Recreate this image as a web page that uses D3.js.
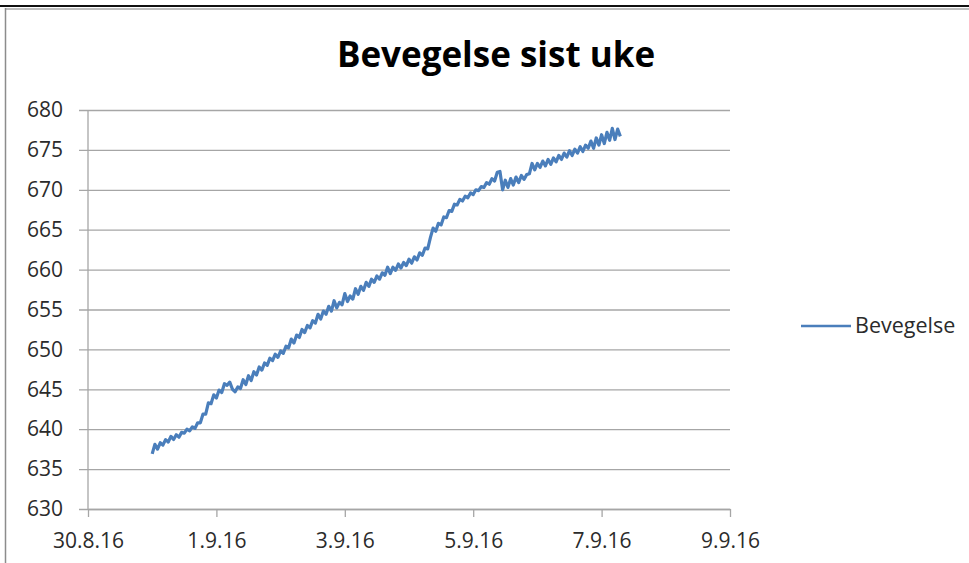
<!DOCTYPE html>
<html>
<head>
<meta charset="utf-8">
<script src="https://cdn.jsdelivr.net/npm/d3@7"></script>
<style>
  body { margin: 0; background: #fff; }
  svg { display: block; font-family: "Open Sans", sans-serif; }
</style>
</head>
<body>
<div id="chart"></div>
<script>
// data, one value per hour from 31.8.16 00:00
const title = "Bevegelse sist uke";
const seriesName = "Bevegelse";
const startTime = new Date(2016, 7, 31, 0, 0);
const values = [
  636.9, 638.1, 637.5, 638.3, 638.0, 638.7, 638.4, 639.1, 638.7, 639.3, 639.0, 639.6,
  639.5, 640.0, 639.8, 640.3, 640.1, 640.8, 640.8, 641.9, 641.9, 643.3, 643.2, 644.3,
  643.9, 644.9, 644.6, 645.7, 645.5, 645.9, 645.0, 644.7, 645.3, 645.1, 646.2, 645.6,
  646.7, 646.1, 647.2, 646.8, 647.8, 647.4, 648.3, 648.0, 648.9, 648.6, 649.4, 649.0,
  649.8, 649.5, 650.4, 650.2, 651.3, 650.8, 651.8, 651.5, 652.5, 652.1, 653.0, 652.7,
  653.6, 653.3, 654.4, 653.8, 654.8, 654.4, 655.4, 654.8, 656.1, 655.2, 655.9, 655.6,
  657.0, 656.0, 656.7, 656.3, 657.6, 656.9, 657.9, 657.4, 658.4, 657.9, 658.8, 658.4,
  659.2, 658.8, 659.6, 659.3, 660.3, 659.5, 660.3, 659.9, 660.7, 660.2, 660.9, 660.5,
  661.3, 660.8, 661.6, 661.2, 662.1, 661.8, 662.7, 662.6, 664.0, 665.2, 664.8, 665.8,
  665.6, 666.6, 666.5, 667.4, 667.3, 668.2, 668.1, 668.8, 668.6, 669.2, 669.0, 669.6,
  669.4, 670.0, 669.9, 670.4, 670.3, 670.9, 670.7, 671.4, 671.1, 672.2, 672.3, 670.0,
  671.2, 670.3, 671.4, 670.6, 671.6, 670.9, 671.8, 671.3, 671.9, 672.0, 673.3, 672.5,
  673.3, 672.8, 673.6, 673.0, 673.8, 673.2, 674.0, 673.5, 674.3, 673.8, 674.6, 674.1,
  674.9, 674.3, 675.1, 674.6, 675.4, 674.8, 675.6, 675.2, 676.1, 675.2, 676.5, 675.6,
  676.9, 675.8, 677.2, 676.2, 677.7, 676.3, 677.6, 676.7
];
const xTicks = [new Date(2016, 7, 30), new Date(2016, 8, 1), new Date(2016, 8, 3),
  new Date(2016, 8, 5), new Date(2016, 8, 7), new Date(2016, 8, 9)];
const yTicks = [630, 635, 640, 645, 650, 655, 660, 665, 670, 675, 680];

const data = values.map((v, i) => ({ time: new Date(startTime.getTime() + i * 3600000), value: v }));

const W = 969, H = 563;
const svg = d3.select("#chart").append("svg").attr("width", W).attr("height", H);

// frame bits at the top / left (page crop)
svg.append("line").attr("x1", 0).attr("x2", W).attr("y1", 6).attr("y2", 6)
  .attr("stroke", "#111").attr("stroke-width", 2);
svg.append("line").attr("x1", 5).attr("x2", W).attr("y1", 9).attr("y2", 9)
  .attr("stroke", "#bdbdbd").attr("stroke-width", 2);
svg.append("line").attr("x1", 5.5).attr("x2", 5.5).attr("y1", 8).attr("y2", H)
  .attr("stroke", "#8c8c8c").attr("stroke-width", 1.5);

const x = d3.scaleTime().domain([xTicks[0], xTicks[xTicks.length - 1]]).range([88, 730]);
const y = d3.scaleLinear().domain([630, 680]).range([509, 110]);

const fmt = d => d.getDate() + "." + (d.getMonth() + 1) + "." + String(d.getFullYear()).slice(2);

// gridlines + y labels
const gy = svg.append("g").attr("transform", "translate(79,0)")
  .call(d3.axisLeft(y).tickValues(yTicks).tickSize(-(730 - 79)).tickPadding(16).tickFormat(d3.format("d")));
gy.select(".domain").remove();
gy.selectAll(".tick line").attr("stroke", "#a6a6a6").attr("stroke-width", 1.3);
gy.selectAll(".tick text").attr("fill", "#2b2b2b").style("font-size", "21px")
  .style("font-family", "'Open Sans', sans-serif");

// y axis line
svg.append("line").attr("x1", x.range()[0]).attr("x2", x.range()[0])
  .attr("y1", y.range()[1]).attr("y2", y.range()[0])
  .attr("stroke", "#a6a6a6").attr("stroke-width", 1.3);

// x axis
const gx = svg.append("g").attr("transform", "translate(0," + y.range()[0] + ")")
  .call(d3.axisBottom(x).tickValues(xTicks).tickSize(8).tickSizeOuter(0).tickPadding(16).tickFormat(fmt));
gx.select(".domain").attr("stroke", "#a6a6a6").attr("stroke-width", 1.3);
gx.selectAll(".tick line").attr("stroke", "#a6a6a6").attr("stroke-width", 1.3);
gx.selectAll(".tick text").attr("fill", "#2b2b2b").style("font-size", "21px")
  .style("font-family", "'Open Sans', sans-serif");

// the series
const line = d3.line().x(d => x(d.time)).y(d => y(d.value));
svg.append("path").datum(data).attr("d", line)
  .attr("fill", "none").attr("stroke", "#4a7ebb").attr("stroke-width", 3.2)
  .attr("stroke-linejoin", "round");

// title
svg.append("text").attr("x", 496).attr("y", 67).attr("text-anchor", "middle")
  .style("font-size", "35px").style("font-weight", "bold").attr("fill", "#000")
  .text(title);

// legend
svg.append("line").attr("x1", 801).attr("x2", 851).attr("y1", 326).attr("y2", 326)
  .attr("stroke", "#4a7ebb").attr("stroke-width", 2.6);
svg.append("text").attr("x", 855).attr("y", 333).attr("fill", "#2b2b2b")
  .style("font-size", "21.5px").text(seriesName);
</script>
</body>
</html>
